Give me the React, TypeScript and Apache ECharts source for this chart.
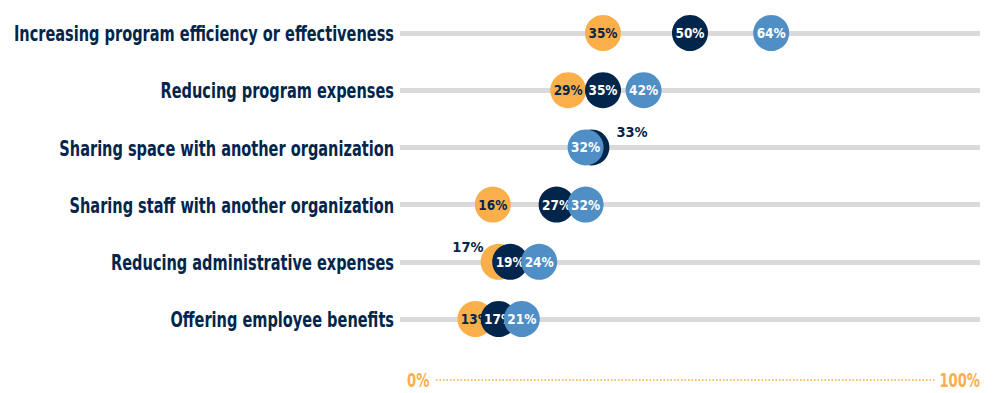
import React, { useEffect, useRef } from "react";
import * as echarts from "echarts";

const categories = [
  "Increasing program efficiency or effectiveness",
  "Reducing program expenses",
  "Sharing space with another organization",
  "Sharing staff with another organization",
  "Reducing administrative expenses",
  "Offering employee benefits",
];
const seriesNames = ["Group A", "Group B", "Group C"];
const orangeValues: (number | null)[] = [35, 29, null, 16, 17, 13];
const navyValues: (number | null)[] = [50, 35, 33, 27, 19, 17];
const blueValues: (number | null)[] = [64, 42, 32, 32, 24, 21];
const axisLabels = ["0%", "100%"];

const COLORS = ["#FBAF4A", "#02254B", "#4F8FC6"];
const TEXT_COLORS = ["#02254B", "#FFFFFF", "#FFFFFF"];
const FONT = "'DejaVu Sans Condensed', 'DejaVu Sans', sans-serif";
const SQUEEZE = 0.77;

export default function App() {
  const ref = useRef<HTMLDivElement>(null);
  useEffect(() => {
    document.body.style.margin = "0";
    if (!ref.current) return;
    const chart = echarts.init(ref.current, null, { renderer: "svg" });
    const all = [orangeValues, navyValues, blueValues];

    const series = all.map((vals, si) => ({
      name: seriesNames[si],
      type: "scatter",
      z: 2 + si,
      clip: false,
      symbol: "circle",
      symbolSize: 36,
      itemStyle: { color: COLORS[si], opacity: 1 },
      label: {
        show: true,
        position: "inside",
        formatter: (p: any) => `${p.value[0]}%`,
        color: TEXT_COLORS[si],
        fontFamily: FONT,
        fontWeight: "bold",
        fontSize: 13.5,
      },
      data: vals
        .map((v, ri) => {
          if (v === null) return null;
          let cover: number | null = null;
          for (let sj = si + 1; sj < all.length; sj++) {
            const w = all[sj][ri];
            if (w !== null && Math.abs(w - v) <= 2) cover = w;
          }
          const item: any = { value: [v, categories[ri]] };
          if (cover !== null) {
            const leftSide = cover > v;
            item.label = {
              position: leftSide ? "left" : "right",
              distance: leftSide ? 0 : 7,
              offset: [leftSide ? 3 : 0, -15],
              color: "#02254B",
              fontSize: 14.5,
            };
          }
          return item;
        })
        .filter((d) => d !== null),
    }));

    chart.setOption({
      animation: false,
      grid: {
        left: 400,
        right: 20,
        top: 33,
        bottom: 74,
        containLabel: false,
        outerBoundsMode: "none",
      },
      xAxis: { type: "value", min: 0, max: 100, show: false },
      yAxis: {
        type: "category",
        data: categories,
        inverse: true,
        boundaryGap: false,
        axisLine: { show: false },
        axisTick: { show: false },
        axisLabel: { show: false },
        splitLine: { show: true, lineStyle: { color: "#DADADA", width: 5 } },
      },
      series,
    });

    const labelEls = categories.map((c) => {
      const y = chart.convertToPixel({ yAxisIndex: 0 }, c) as number;
      return {
        type: "text",
        x: 394,
        y: y + 1,
        scaleX: SQUEEZE,
        style: {
          text: c,
          fill: "#02254B",
          font: `bold 21px ${FONT}`,
          align: "right",
          verticalAlign: "middle",
        },
      };
    });
    const x0 = chart.convertToPixel({ xAxisIndex: 0 }, 0) as number;
    const x100 = chart.convertToPixel({ xAxisIndex: 0 }, 100) as number;

    chart.setOption({
      graphic: [
        ...labelEls,
        {
          type: "text",
          x: x0 + 7,
          y: 380,
          scaleX: SQUEEZE,
          style: {
            text: axisLabels[0],
            fill: "#FBAF4A",
            font: `bold 19px ${FONT}`,
            align: "left",
            verticalAlign: "middle",
          },
        },
        {
          type: "line",
          shape: { x1: x0 + 36, y1: 380, x2: x100 - 44, y2: 380 },
          style: { stroke: "#F9A93E", lineWidth: 1.5, lineDash: [1.5, 2] },
        },
        {
          type: "text",
          x: x100,
          y: 380,
          scaleX: SQUEEZE,
          style: {
            text: axisLabels[1],
            fill: "#FBAF4A",
            font: `bold 19px ${FONT}`,
            align: "right",
            verticalAlign: "middle",
          },
        },
      ],
    });
    return () => chart.dispose();
  }, []);
  return <div ref={ref} style={{ width: 1000, height: 393 }} />;
}
